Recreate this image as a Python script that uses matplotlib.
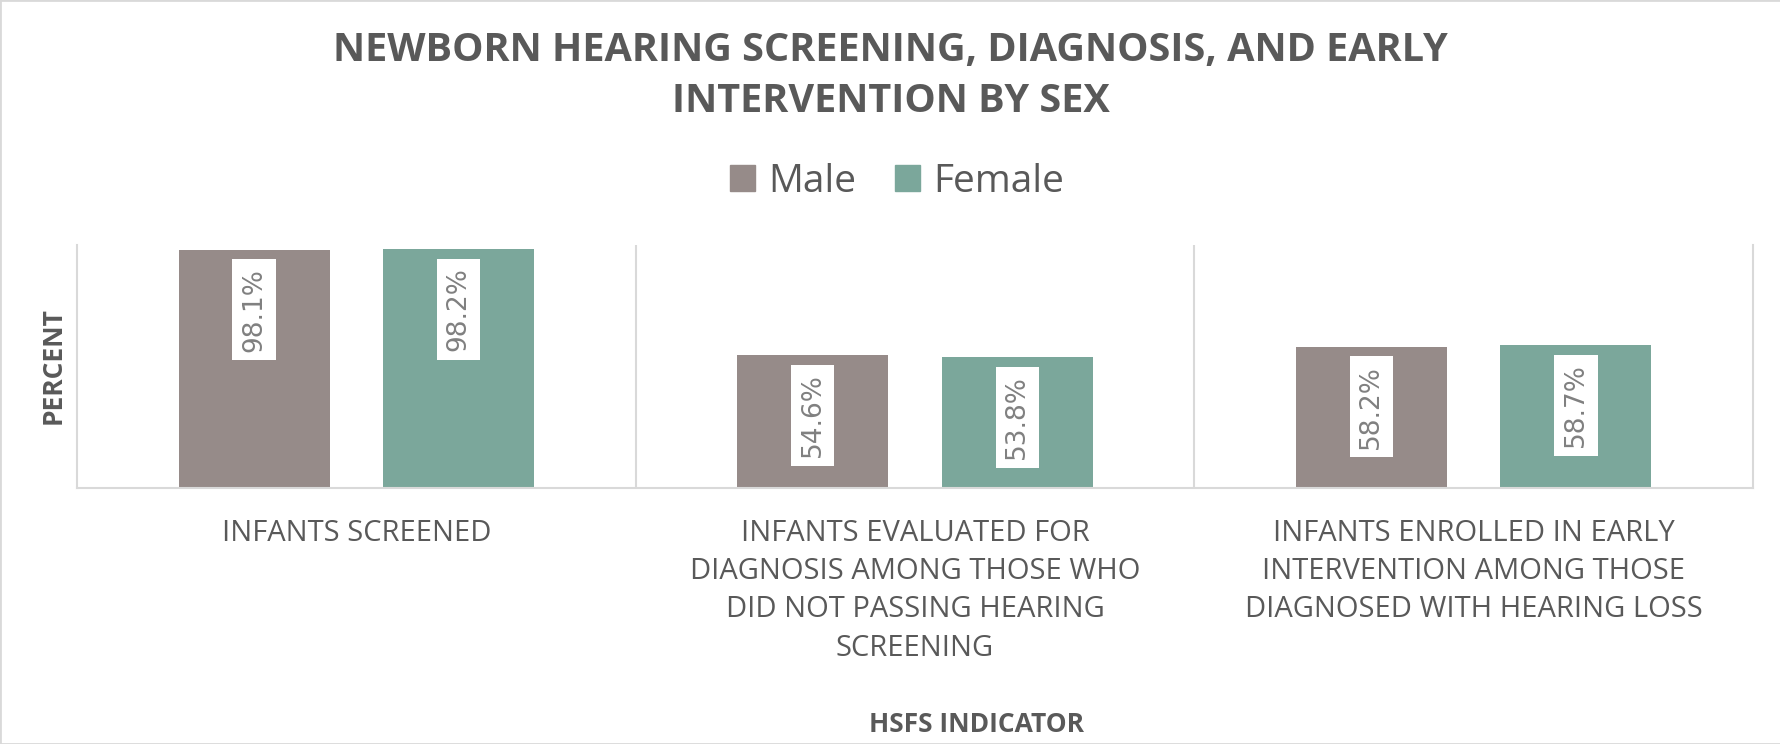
import numpy as np
import matplotlib
matplotlib.use("Agg")
import matplotlib.pyplot as plt
from matplotlib.patches import Patch, Rectangle

plt.rcParams["font.family"] = ["Open Sans", "DejaVu Sans"]

# data
categories = [
    "INFANTS SCREENED",
    "INFANTS EVALUATED FOR\nDIAGNOSIS AMONG THOSE WHO\nDID NOT PASSING HEARING\nSCREENING",
    "INFANTS ENROLLED IN EARLY\nINTERVENTION AMONG THOSE\nDIAGNOSED WITH HEARING LOSS",
]
series_names = ["Male", "Female"]
male = [98.1, 54.6, 58.2]
female = [98.2, 53.8, 58.7]

MALE_COLOR = "#968b89"
FEMALE_COLOR = "#7ba79b"
TEXT = "#595959"
LINE = "#d9d9d9"

W, H = 1781, 744
fig = plt.figure(figsize=(W / 100, H / 100), dpi=100)
ax = fig.add_axes([77 / W, 1 - 488 / H, (1753 - 77) / W, (488 - 245) / H])

x = np.arange(len(categories))
bw = 0.27
off = 0.183
bars_m = ax.bar(x - off, male, bw, color=MALE_COLOR, zorder=2, label=series_names[0])
bars_f = ax.bar(x + off, female, bw, color=FEMALE_COLOR, zorder=2, label=series_names[1])

for bars in (bars_m, bars_f):
    for rect in bars:
        v = rect.get_height()
        ax.annotate(f"{v:.1f}%",
                    xy=(rect.get_x() + rect.get_width() / 2, v),
                    xytext=(0, -13), textcoords="offset points",
                    ha="center", va="top", rotation=90,
                    fontsize=19, color="#808080", family="DejaVu Sans",
                    bbox=dict(boxstyle="square,pad=0.33", fc="white", ec="none"),
                    zorder=3)

ax.set_xlim(-0.5, len(categories) - 0.5)
ax.set_ylim(0, 100)
ax.set_yticks([])
ax.set_xticks(x)
ax.set_xticklabels(categories, fontsize=21, color=TEXT, linespacing=1.43)
ax.tick_params(axis="x", length=0, pad=22)

# category separators
ax.vlines(x[:-1] + 0.5, 0, 100, color=LINE, lw=1.5, zorder=1)
for side in ("left", "right", "bottom"):
    ax.spines[side].set_color(LINE)
    ax.spines[side].set_linewidth(1.5)
ax.spines["top"].set_visible(False)

fig.text(0.5, 1 - 76 / H,
         "NEWBORN HEARING SCREENING, DIAGNOSIS, AND EARLY\nINTERVENTION BY SEX",
         ha="center", va="center", fontsize=28.5, weight="bold", color=TEXT,
         linespacing=1.4)

fig.legend(handles=[Patch(color=MALE_COLOR, label=series_names[0]),
                    Patch(color=FEMALE_COLOR, label=series_names[1])],
           loc="center", bbox_to_anchor=(897 / W, 1 - 182 / H), ncol=2,
           frameon=False, prop=dict(family="Open Sans", size=28),
           labelcolor=TEXT, handlelength=0.64, handleheight=0.64,
           handletextpad=0.36, columnspacing=0.98)

fig.text(53 / W, 1 - 366 / H, "PERCENT", rotation=90, ha="center", va="center",
         fontsize=19, weight="bold", color=TEXT)
fig.text(977 / W, 1 - 725 / H, "HSFS INDICATOR", ha="center", va="center",
         fontsize=19, weight="bold", color=TEXT)

fig.patches.append(Rectangle((0, 0), 1, 1, transform=fig.transFigure, fill=False,
                             edgecolor=LINE, lw=2))

fig.savefig("out.png", dpi=100)
